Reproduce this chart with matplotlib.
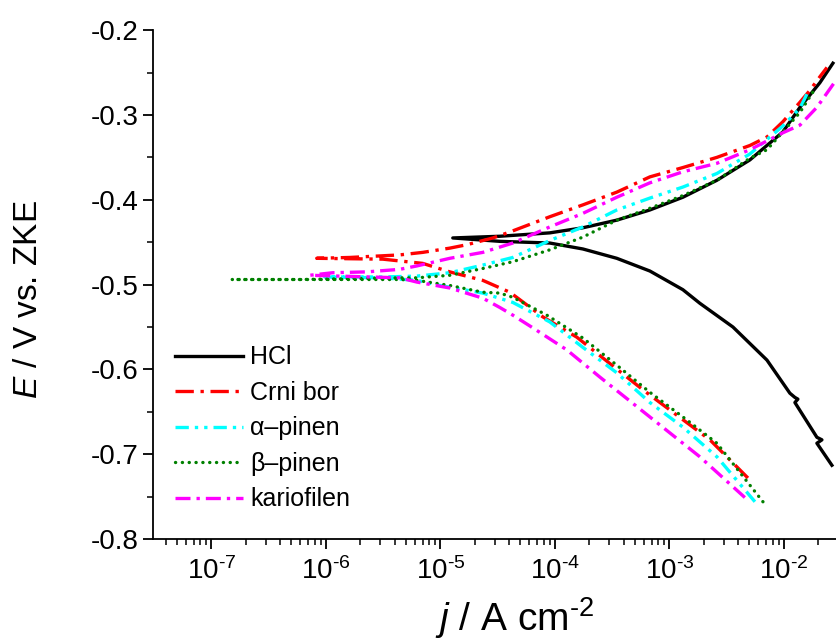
import numpy as np
import matplotlib
matplotlib.use("Agg")
from matplotlib import pyplot as plt
from matplotlib.ticker import LogLocator, MultipleLocator, FuncFormatter, NullFormatter

plt.rcParams['font.family'] = ['Liberation Sans', 'DejaVu Sans']
plt.rcParams['mathtext.fontset'] = 'custom'
plt.rcParams['mathtext.rm'] = 'Liberation Sans'
plt.rcParams['mathtext.it'] = 'Liberation Sans:italic'

# log10(j / A cm^-2) and E / V, traced from the cathodic end through Ecorr to the anodic end
logj_hcl = [-1.581, -1.712, -1.668, -1.712, -1.904, -1.878, -1.904, -1.948, -2.148, -2.445,
            -2.734, -2.882, -3.170, -3.459, -3.755, -4.044, -4.480, -4.891,
            -4.480, -4.044, -3.755, -3.459, -3.170, -2.882, -2.585, -2.297, -2.009, -1.860,
            -1.686, -1.572]
e_hcl = [-0.713, -0.687, -0.683, -0.680, -0.639, -0.635, -0.633, -0.628, -0.589, -0.550,
         -0.522, -0.506, -0.484, -0.469, -0.458, -0.451, -0.449, -0.445,
         -0.443, -0.439, -0.433, -0.424, -0.412, -0.397, -0.377, -0.353, -0.320, -0.291,
         -0.262, -0.239]

logj_bor = [-2.314, -2.646, -2.934, -3.231, -3.520, -3.808, -4.105, -4.393, -4.629, -4.917,
            -5.153, -5.502, -6.079,
            -5.790, -5.354, -5.153, -4.917, -4.769, -4.541, -4.393, -4.044, -3.755, -3.459,
            -3.170, -2.882, -2.585, -2.297, -2.148, -2.009, -1.860, -1.773, -1.686, -1.624]
e_bor = [-0.728, -0.683, -0.654, -0.624, -0.593, -0.562, -0.538, -0.509, -0.495, -0.485,
         -0.475, -0.470, -0.469,
         -0.468, -0.465, -0.462, -0.457, -0.453, -0.445, -0.438, -0.420, -0.406, -0.391,
         -0.373, -0.362, -0.350, -0.336, -0.326, -0.308, -0.285, -0.271, -0.255, -0.244]

logj_alfa = [-2.253, -2.585, -2.882, -3.170, -3.459, -3.755, -4.044, -4.367, -4.629, -5.004,
             -5.205, -5.502, -6.009,
             -5.502, -5.205, -4.917, -4.629, -4.367, -4.044, -3.755, -3.459, -3.170, -2.882,
             -2.585, -2.297, -2.009, -1.860, -1.790]
e_alfa = [-0.756, -0.703, -0.668, -0.639, -0.604, -0.574, -0.544, -0.521, -0.510, -0.501,
          -0.495, -0.492, -0.491,
          -0.491, -0.490, -0.486, -0.477, -0.468, -0.448, -0.432, -0.412, -0.398, -0.385,
          -0.369, -0.346, -0.313, -0.292, -0.273]

logj_beta = [-2.183, -2.585, -2.882, -3.170, -3.459, -3.755, -4.070, -4.367, -4.480, -4.629,
             -4.917, -5.205, -5.354, -6.821,
             -6.227, -5.354, -5.205, -4.917, -4.629, -4.367, -4.044, -3.755, -3.459, -3.170,
             -2.882, -2.585, -2.297, -2.148, -2.009, -1.860, -1.747]
e_beta = [-0.756, -0.687, -0.656, -0.627, -0.595, -0.563, -0.536, -0.515, -0.510, -0.509,
          -0.501, -0.495, -0.494, -0.494,
          -0.494, -0.492, -0.492, -0.489, -0.481, -0.473, -0.459, -0.444, -0.424, -0.410,
          -0.395, -0.377, -0.351, -0.341, -0.320, -0.297, -0.273]

logj_kar = [-2.341, -2.734, -3.022, -3.319, -3.607, -3.895, -4.192, -4.367, -4.480, -4.629,
            -4.917, -5.205, -5.354, -6.140,
            -5.939, -5.642, -5.354, -5.205, -4.917, -4.629, -4.367, -4.044, -3.755, -3.459,
            -3.170, -2.882, -2.585, -2.297, -2.009, -1.860, -1.712, -1.555]
e_kar = [-0.751, -0.703, -0.672, -0.640, -0.609, -0.577, -0.551, -0.536, -0.527, -0.516,
         -0.504, -0.497, -0.492, -0.489,
         -0.486, -0.485, -0.482, -0.478, -0.469, -0.462, -0.451, -0.432, -0.416, -0.397,
         -0.380, -0.367, -0.357, -0.341, -0.321, -0.312, -0.291, -0.261]

series = [
    ('HCl', logj_hcl, e_hcl, 'black', '-', 'round'),
    ('Crni bor', logj_bor, e_bor, '#ff0000', (0, (5.5, 2, 1, 2)), 'butt'),
    ('\u03b1\u2013pinen', logj_alfa, e_alfa, '#00ffff', (0, (4, 1.8, 1, 1.8, 1, 1.8)), 'butt'),
    ('\u03b2\u2013pinen', logj_beta, e_beta, '#008000', (0, (0.05, 2)), 'round'),
    ('kariofilen', logj_kar, e_kar, '#ff00ff', (0, (4.5, 1.8, 1, 1.8)), 'butt'),
]

fig = plt.figure(figsize=(8.36, 6.41), dpi=100)
ax = fig.add_axes([0.183, 0.159, 0.817, 0.794])

for name, lj, e, col, ls, cap in series:
    ax.plot(10 ** np.array(lj), e, color=col, linestyle=ls, lw=2.4,
            dash_capstyle=cap, label=name)

ax.set_xscale('log')
ax.set_xlim(3.1e-8, 2.85e-2)
ax.set_ylim(-0.8, -0.2)

ax.xaxis.set_major_locator(LogLocator(base=10, numticks=20))
ax.xaxis.set_minor_locator(LogLocator(base=10, subs=np.arange(2, 10), numticks=20))
ax.xaxis.set_minor_formatter(NullFormatter())
ax.xaxis.set_major_formatter(FuncFormatter(
    lambda v, p: '$\\mathregular{10^{\\text{-}%d}}$' % abs(round(np.log10(v)))))
ax.yaxis.set_major_locator(MultipleLocator(0.1))
ax.yaxis.set_minor_locator(MultipleLocator(0.05))
ax.yaxis.set_major_formatter(FuncFormatter(lambda v, p: '%.1f' % v))

for s in ['top', 'right']:
    ax.spines[s].set_visible(False)
for s in ['left', 'bottom']:
    ax.spines[s].set_linewidth(1.3)

ax.tick_params(which='major', direction='out', length=7, width=1.3, labelsize=20)
ax.tick_params(which='minor', direction='out', length=4, width=1.1)
ax.tick_params(axis='x', pad=6)

ax.set_ylabel('$E$ / V vs. ZKE', fontsize=24)
ax.yaxis.set_label_coords(-0.16, 0.47)
ax.set_xlabel('$j$ / A cm$^{\\text{-}2}$', fontsize=28)
ax.xaxis.set_label_coords(0.53, -0.11)

ax.legend(loc='lower left', bbox_to_anchor=(0.0, 0.01), frameon=False, fontsize=18,
          handlelength=2.7, handletextpad=0.3, labelspacing=0.46, borderaxespad=0.5)

fig.savefig('out.png', dpi=100)
